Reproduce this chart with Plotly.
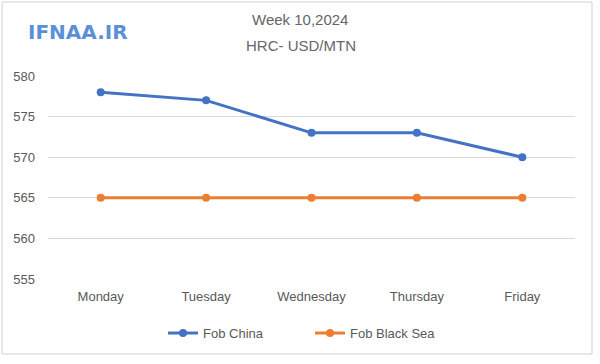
import plotly.graph_objects as go

days = ["Monday", "Tuesday", "Wednesday", "Thursday", "Friday"]
fob_china = [578, 577, 573, 573, 570]
fob_black_sea = [565, 565, 565, 565, 565]
y_ticks = [555, 560, 565, 570, 575, 580]

FONT = "Liberation Sans"
GRAY = "#595959"
PW, PH, PL, PB = 527, 203, 48, 279  # plot area in px (width, height, left, bottom)

def px_x(x):
    return (x - PL) / PW

def px_y(y):
    return (PB - y) / PH

fig = go.Figure()
fig.add_trace(go.Scatter(x=days, y=fob_china, name="Fob China", mode="lines+markers",
                         line=dict(color="#4472C4", width=3), marker=dict(size=8, color="#4472C4")))
fig.add_trace(go.Scatter(x=days, y=fob_black_sea, name="Fob Black Sea", mode="lines+markers",
                         line=dict(color="#ED7D31", width=3), marker=dict(size=8, color="#ED7D31")))

fig.update_layout(
    width=600, height=364,
    margin=dict(l=48, r=25, t=76, b=85, autoexpand=False),
    paper_bgcolor="white", plot_bgcolor="white",
    font=dict(family=FONT, size=13, color=GRAY),
    showlegend=True,
    legend=dict(orientation="h", x=px_x(163), xanchor="left", y=0.085, yref="container",
                yanchor="middle", entrywidth=102, font=dict(size=13, color=GRAY)),
    xaxis=dict(range=[-0.5, 4.5], showgrid=False, showline=False, ticks="",
               tickfont=dict(size=13, color=GRAY), automargin=False, ticklabelstandoff=8),
    yaxis=dict(range=[555, 580], tickvals=y_ticks, showgrid=True, gridcolor="#D9D9D9",
               gridwidth=1, zeroline=False, showline=False, ticks="", automargin=False,
               tickfont=dict(size=13, color=GRAY), ticklabelstandoff=12),
)
fig.add_annotation(text="Week 10,2024", xref="paper", yref="paper",
                   x=px_x(300), y=px_y(20), xanchor="center", yanchor="middle", showarrow=False,
                   font=dict(size=15, color="#666666", family=FONT))
fig.add_annotation(text="HRC- USD/MTN", xref="paper", yref="paper",
                   x=px_x(301), y=px_y(45), xanchor="center", yanchor="middle", showarrow=False,
                   font=dict(size=15, color="#666666", family=FONT))
fig.add_annotation(text="<b>IFNAA.IR</b>", xref="paper", yref="paper",
                   x=px_x(78), y=px_y(32), xanchor="center", yanchor="middle",
                   showarrow=False, font=dict(size=20, color="#5B8FD6", family="DejaVu Sans"))
fig.add_shape(type="rect", xref="paper", yref="paper",
              x0=px_x(2), x1=px_x(592), y0=px_y(354), y1=px_y(2),
              line=dict(color="#D0D0D0", width=1))

fig.write_html("out.html", config={"displayModeBar": False},
               post_script="document.body.style.margin='0';")
